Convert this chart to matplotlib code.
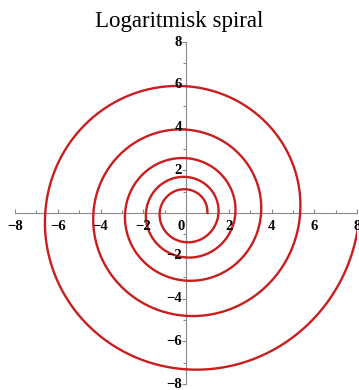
import numpy as np
import matplotlib
matplotlib.use('Agg')
import matplotlib.pyplot as plt

# r = a*exp(b*theta), theta from 0 to 10*pi
a = 1.0
b = 1.0 / 15.0
theta_max = 10 * np.pi

major_ticks = [-8, -6, -4, -2, 2, 4, 6, 8]
minor_ticks = [-7, -5, -3, -1, 1, 3, 5, 7]
limite = 8

theta = np.linspace(0, theta_max, 2000)
r = a * np.exp(b * theta)
x = r * np.cos(theta)
y = r * np.sin(theta)

fig = plt.figure(figsize=(3.59, 3.90), dpi=100)
ax = fig.add_axes([15/359, 6/390, 342/359, 342/390])
ax.set_xlim(-limite, limite)
ax.set_ylim(-limite, limite)
ax.set_aspect('equal')

ax.plot(x, y, color='#c81e1e', lw=1.7, zorder=3)

ax.spines['right'].set_visible(False)
ax.spines['top'].set_visible(False)
ax.spines['left'].set_position('zero')
ax.spines['bottom'].set_position('zero')
for s in ['left', 'bottom']:
    ax.spines[s].set_color('#8a8a8a')
    ax.spines[s].set_linewidth(0.8)

ax.set_xticks(major_ticks)
ax.set_yticks(major_ticks)
ax.set_xticks(minor_ticks, minor=True)
ax.set_yticks(minor_ticks, minor=True)
ax.tick_params(axis='x', which='both', direction='in', color='#8a8a8a', labelbottom=False)
ax.tick_params(axis='y', which='both', direction='out', color='#8a8a8a', labelleft=False)
ax.tick_params(which='major', length=3, width=0.8)
ax.tick_params(which='minor', length=2, width=0.8)

fuente = dict(family='Liberation Serif', fontsize=10.5, fontweight='bold')
for t in major_ticks:
    etiqueta = str(t).replace('-', '\u2212')
    ax.text(t, -0.35, etiqueta, ha='center', va='top', **fuente)
    ax.text(-0.2, t, etiqueta, ha='right', va='center', **fuente)
ax.text(-0.25, -0.35, '0', ha='center', va='top', **fuente)

fig.text(0.5, 0.945, 'Logaritmisk spiral', ha='center', va='center',
         family='Liberation Serif', fontsize=16.5)

plt.savefig('out.png', dpi=100)
